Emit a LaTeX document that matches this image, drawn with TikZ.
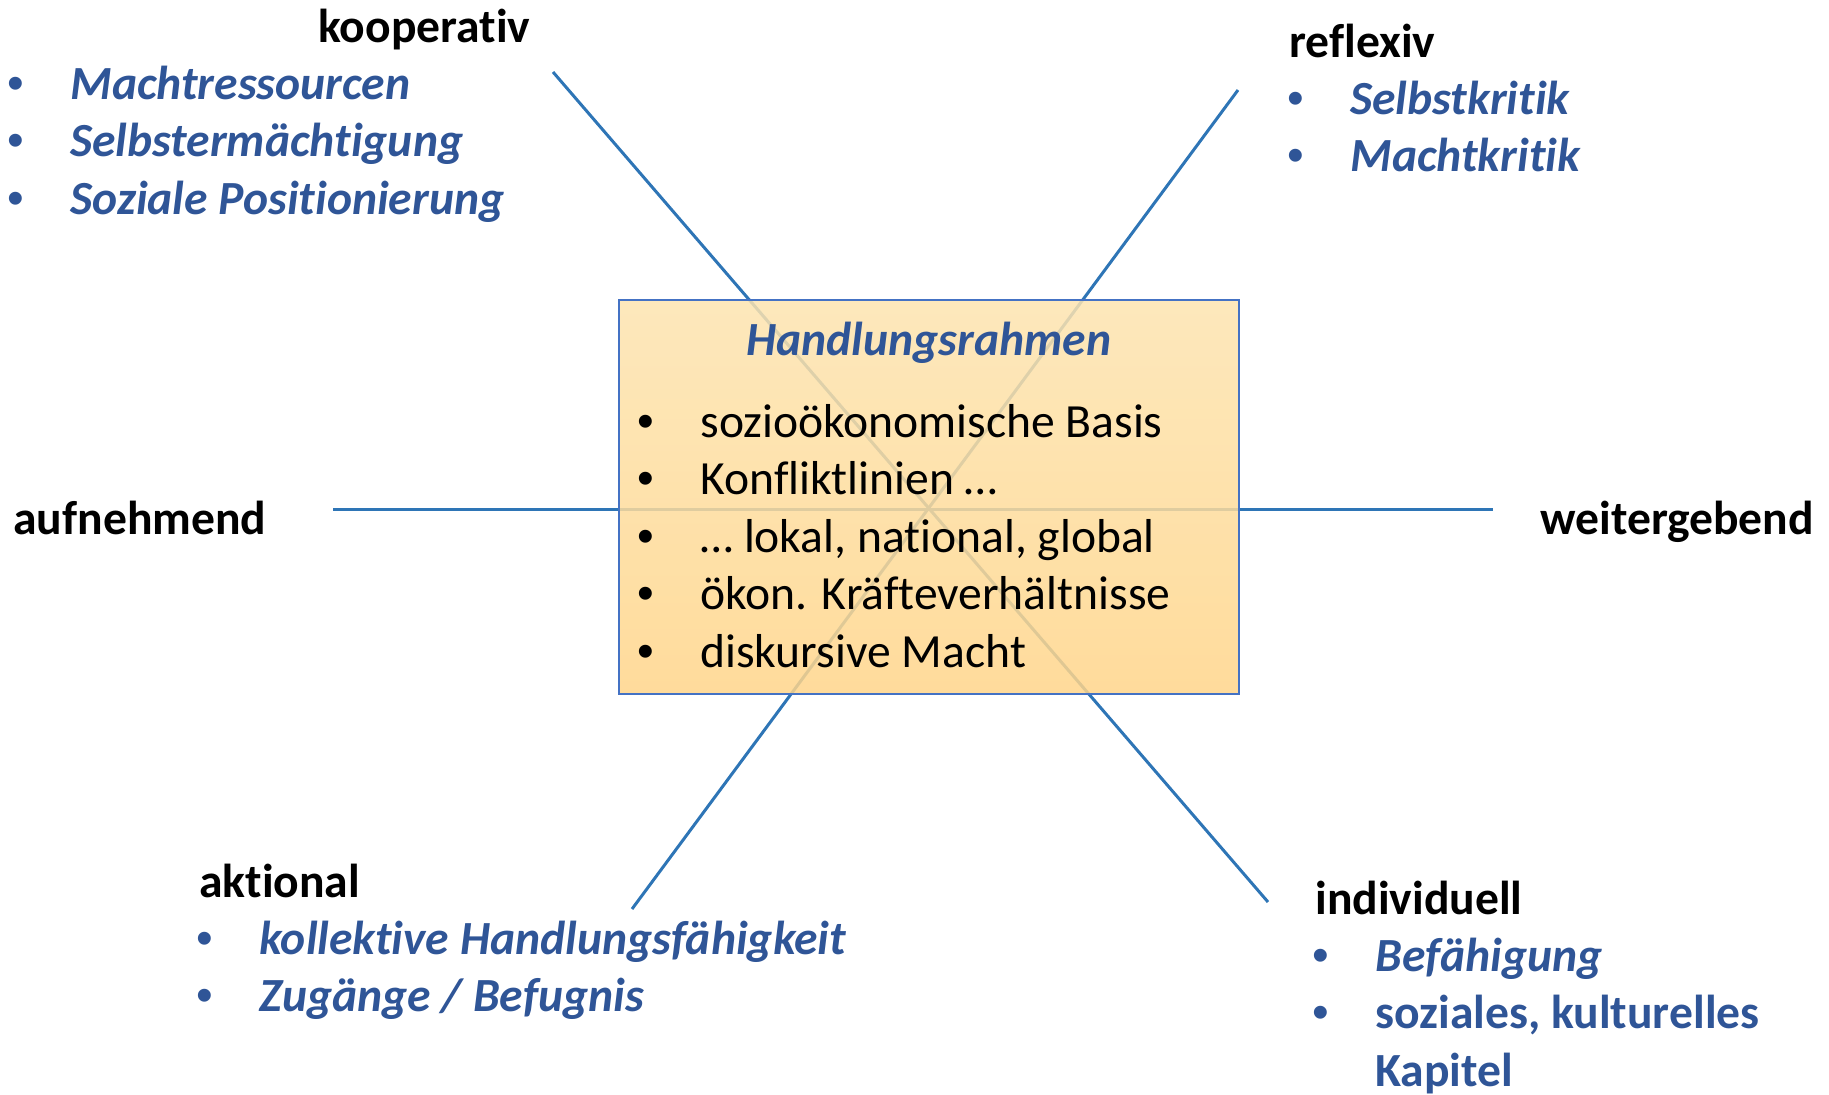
\documentclass[tikz,border=0pt]{standalone}
\usepackage{fontspec}
\setmainfont{Carlito}[Ligatures=NoCommon]
\newfontfamily\arial{Liberation Sans}
\definecolor{linie}{HTML}{2E75B6}
\definecolor{blau}{HTML}{2F5597}
\definecolor{rand}{HTML}{4472C4}
\definecolor{oben}{HTML}{FDE4B0}
\definecolor{unten}{HTML}{FFD58A}
\newcommand{\gross}{\fontsize{23.8}{28.75}\selectfont}
\newcommand{\pkt}{{\arial\upshape\mdseries\textbullet}}
\newcommand{\punkte}[1]{\begin{tabular}[t]{@{}p{31.5pt}@{}l@{}}#1\end{tabular}}
\tikzset{
  kopf/.style={font=\gross\bfseries, anchor=base west, inner sep=0pt},
  liste/.style={font=\gross\bfseries\itshape, text=blau, anchor=base west, inner sep=0pt},
  inhalt/.style={font=\gross, anchor=base west, inner sep=0pt},
  achse/.style={draw=linie, line width=1.5pt},
  rahmenbox/.style={draw=rand, line width=1pt, top color=oben, bottom color=unten,
    fill opacity=0.85, minimum width=310pt, minimum height=197pt, inner sep=0pt},
}
\begin{document}
\begin{tikzpicture}[x=0.5pt, y=-0.5pt]
  \useasboundingbox (0,0) rectangle (1829,1094);
  \coordinate (koopE) at (553,72);
  \coordinate (reflE) at (1238,90);
  \coordinate (aufE) at (333,509);
  \coordinate (weiE) at (1493,509);
  \coordinate (aktE) at (632,909);
  \coordinate (indE) at (1268,902);
  \begin{scope}[achse]
    \draw (koopE) -- (indE);
    \draw (reflE) -- (aktE);
    \draw (aufE) -- (weiE);
  \end{scope}
  % Handlungsrahmen in der Mitte
  \node[rahmenbox] (rahmen) at (929,497) {};
  \node[font=\gross\bfseries\itshape, text=blau, anchor=base, inner sep=0pt]
    (titel) at (929,355) {Handlungsrahmen};
  \node[inhalt] (basis) at (637,437) {\punkte{
    \pkt & sozioökonomische Basis\\
    \pkt & Konfliktlinien …\\
    \pkt & … lokal, national, global\\
    \pkt & ökon. Kräfteverhältnisse\\
    \pkt & diskursive Macht}};
  % Dimensionen
  \node[kopf] (koop) at (318,42) {kooperativ};
  \node[liste] (koopL) at (7,99) {\punkte{
    \pkt & Machtressourcen\\
    \pkt & Selbstermächtigung\\
    \pkt & Soziale Positionierung}};
  \node[kopf] (refl) at (1289,57) {reflexiv};
  \node[liste] (reflL) at (1287,114) {\punkte{
    \pkt & Selbstkritik\\
    \pkt & Machtkritik}};
  \node[kopf] (auf) at (13,534) {aufnehmend};
  \node[kopf] (wei) at (1540,534) {weitergebend};
  \node[kopf] (akt) at (199,897) {aktional};
  \node[liste] (aktL) at (196,954) {\punkte{
    \pkt & kollektive Handlungsfähigkeit\\
    \pkt & Zugänge / Befugnis}};
  \node[kopf] (ind) at (1315,914) {individuell};
  \node[liste] (indL) at (1312,971) {\punkte{
    \pkt & Befähigung\\
    \pkt & \upshape soziales, kulturelles\\
    & \upshape Kapitel}};
\end{tikzpicture}
\end{document}
